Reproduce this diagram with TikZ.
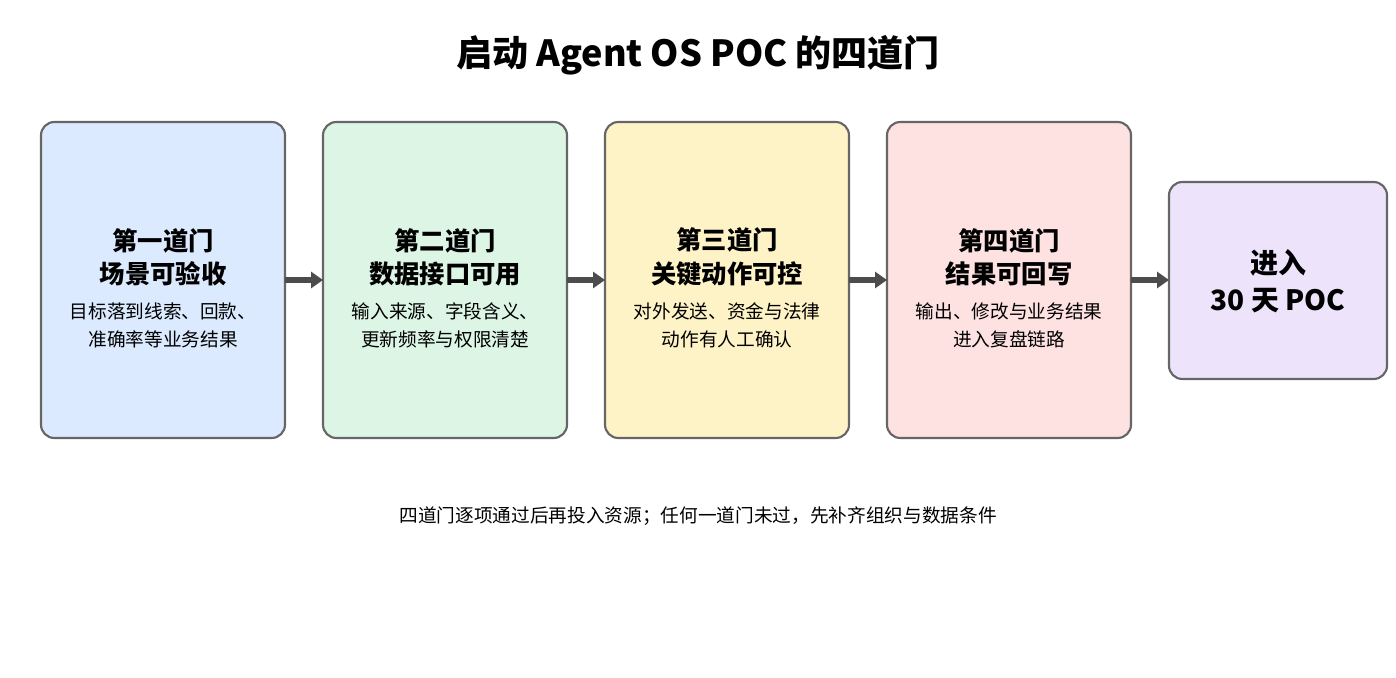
\documentclass[tikz,border=0pt]{standalone}
\usepackage{fontspec}
\setmainfont{Noto Sans CJK SC}
\usetikzlibrary{arrows.meta}
\definecolor{c1}{HTML}{DBEAFE}
\definecolor{c2}{HTML}{DCF5E4}
\definecolor{c3}{HTML}{FEF3C7}
\definecolor{c4}{HTML}{FEE2E2}
\definecolor{c5}{HTML}{EDE3FA}
\begin{document}
\begin{tikzpicture}[x=0.75pt,y=-0.75pt,
 box/.style={draw=black!60,line width=1.6pt,rounded corners=10pt},
 ttl/.style={font=\bfseries\fontsize{19}{25}\selectfont,align=center},
 sub/.style={font=\fontsize{14}{21}\selectfont,align=center},
 arr/.style={-{Triangle[length=9pt,width=12pt]},line width=4pt,draw=black!70}]
\useasboundingbox (0,0) rectangle (1396,678);
\node[font=\bfseries\fontsize{27}{32}\selectfont] (title) at (698,55) {启动 Agent OS POC 的四道门};
\foreach \i/\x/\c/\t/\s in {1/41/c1/{第一道门\\场景可验收}/{目标落到线索、回款、\\准确率等业务结果},
 2/323/c2/{第二道门\\数据接口可用}/{输入来源、字段含义、\\更新频率与权限清楚},
 3/605/c3/{第三道门\\关键动作可控}/{对外发送、资金与法律\\动作有人工确认},
 4/887/c4/{第四道门\\结果可回写}/{输出、修改与业务结果\\进入复盘链路}}{
 \draw[box,fill=\c] (\x,122) rectangle (\x+244,438);
 \coordinate (b\i) at (\x+122,280);
 \coordinate (l\i) at (\x,280);
 \coordinate (r\i) at (\x+244,280);
 \node[ttl] (t\i) at (\x+122,257) {\t};
 \node[sub] (s\i) at (\x+122,325) {\s};
}
\draw[box,fill=c5] (1169,182) rectangle (1387,379);
\coordinate (l5) at (1169,280);
\node[font=\bfseries\fontsize{21}{28}\selectfont,align=center] (t5) at (1278,281) {进入\\30 天 POC};
\foreach \a/\b in {1/2,2/3,3/4,4/5}{\draw[arr] (r\a) -- (l\b);}
\node[font=\fontsize{14}{18}\selectfont] (foot) at (698,516) {四道门逐项通过后再投入资源；任何一道门未过，先补齐组织与数据条件};
\end{tikzpicture}
\end{document}
